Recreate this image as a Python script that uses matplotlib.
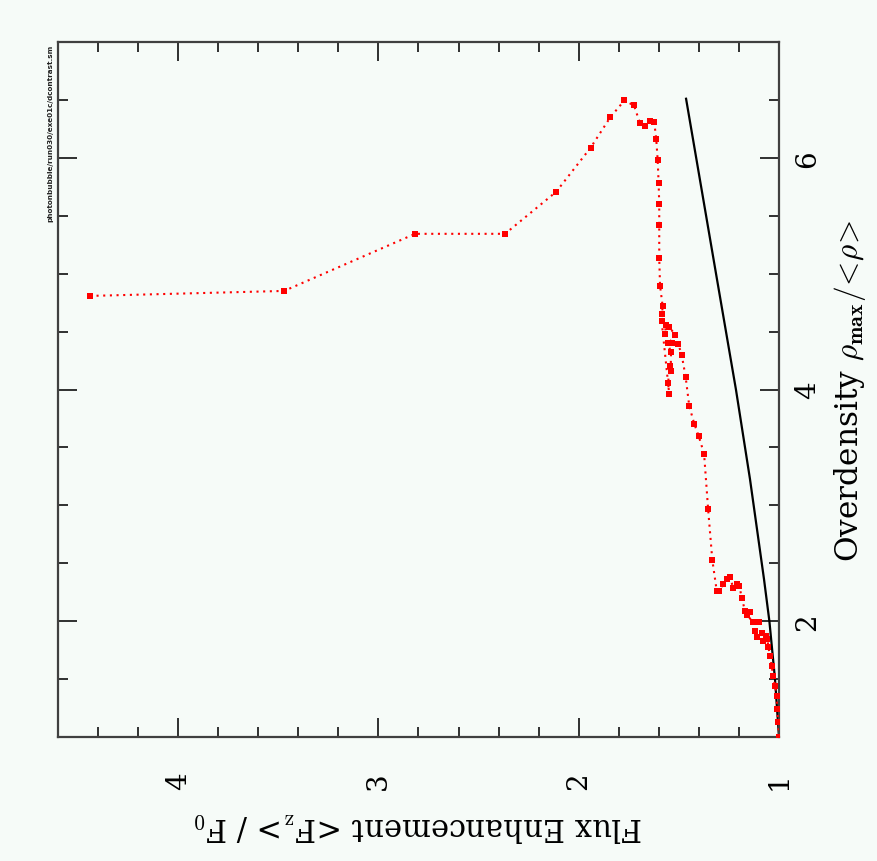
import matplotlib
matplotlib.use("Agg")
import matplotlib.pyplot as plt
from matplotlib.ticker import MultipleLocator

plt.rcParams['mathtext.fontset'] = 'cm'

# Red simulation track: flux enhancement <F_z>/F_0 and overdensity rho_max/<rho>
flux = [1.000, 1.004, 1.009, 1.012, 1.020, 1.029, 1.037, 1.045, 1.053, 1.058,
        1.081, 1.065, 1.086, 1.108, 1.120, 1.098, 1.128, 1.161, 1.145, 1.170,
        1.186, 1.198, 1.211, 1.228, 1.245, 1.261, 1.278, 1.298, 1.311, 1.333,
        1.354, 1.374, 1.401, 1.423, 1.448, 1.466, 1.486, 1.503, 1.518, 1.548,
        1.566, 1.568, 1.533, 1.556, 1.539, 1.541, 1.544, 1.554, 1.548,
        1.586, 1.584, 1.581, 1.594, 1.598, 1.598, 1.598, 1.601, 1.606, 1.613,
        1.623, 1.644, 1.667, 1.694, 1.724, 1.772, 1.842, 1.940, 2.113, 2.368,
        2.817, 3.471, 4.440]
overdensity = [1.000, 1.127, 1.242, 1.357, 1.443, 1.529, 1.616, 1.702, 1.775, 1.846,
               1.832, 1.875, 1.896, 1.866, 1.918, 1.996, 1.991, 2.054, 2.082, 2.091,
               2.200, 2.307, 2.321, 2.284, 2.384, 2.364, 2.321, 2.263, 2.263, 2.528,
               2.969, 3.444, 3.599, 3.703, 3.856, 4.106, 4.301, 4.391, 4.472, 4.538,
               4.558, 4.480, 4.402, 4.400, 4.322, 4.163, 4.201, 4.057, 3.959,
               4.590, 4.653, 4.719, 4.897, 5.134, 5.421, 5.600, 5.784, 5.985, 6.164,
               6.308, 6.316, 6.279, 6.299, 6.452, 6.495, 6.351, 6.089, 5.706, 5.344,
               5.344, 4.851, 4.808]

# Black reference curve
ref_flux = [1.000, 1.020, 1.048, 1.075, 1.145, 1.215, 1.310, 1.464]
ref_overdensity = [1.000, 1.500, 2.000, 2.364, 3.228, 4.000, 4.955, 6.510]

xticks_major = [1, 2, 3, 4]
yticks_major = [2, 4, 6]

bg = '#f6fbf8'
fig = plt.figure(figsize=(8.78, 8.62), dpi=100, facecolor=bg)
ax = fig.add_axes([58/878, 1-738/862, (779-58)/878, (738-43)/862])
ax.set_facecolor(bg)

ax.plot(ref_flux, ref_overdensity, color='black', lw=1.6, zorder=2)
ax.plot(flux, overdensity, color='#ff0000', lw=1.5, linestyle=(0, (1, 2.2)),
        marker='s', markersize=4.0, markeredgewidth=0, zorder=3)

ax.set_xlim(4.6, 1.0)
ax.set_ylim(1.0, 7.0)
ax.set_xticks(xticks_major)
ax.set_yticks(yticks_major)
ax.xaxis.set_minor_locator(MultipleLocator(0.2))
ax.yaxis.set_minor_locator(MultipleLocator(0.5))

for s in ax.spines.values():
    s.set_color('#404040')
    s.set_linewidth(1.6)

ax.tick_params(which='both', direction='in', top=True, bottom=True, left=True,
               right=True, labelleft=False, labelright=True, labelbottom=True,
               color='#202020', width=1.3)
ax.tick_params(which='major', length=14)
ax.tick_params(which='minor', length=7)
ax.tick_params(axis='x', which='major', pad=25, labelsize=20, labelrotation=90)
ax.tick_params(axis='y', which='major', pad=11, labelsize=20, labelrotation=90)
for lab in ax.get_xticklabels() + ax.get_yticklabels():
    lab.set_fontfamily('DejaVu Serif')
for lab in ax.get_yticklabels():
    lab.set_verticalalignment('center')

ax.set_xlabel(r'Flux Enhancement <F$_{\rm z}$> / F$_0$', fontsize=22,
              family='DejaVu Serif', rotation=180, labelpad=15)
ax.yaxis.set_label_position('right')
ax.set_ylabel(r'Overdensity $\rho_{\mathbf{max}}/\!<\!\rho\!>$', fontsize=22.5,
              family='DejaVu Serif', rotation=90, labelpad=8)

fig.text(50/878, 1-133/862, 'photonbubble/run030/exe01c/dcontrast.sm',
         rotation=90, fontsize=5.2, fontweight='bold', ha='center', va='center',
         family='DejaVu Sans', color='#222222')

fig.savefig('out.png', dpi=100, facecolor=bg)
